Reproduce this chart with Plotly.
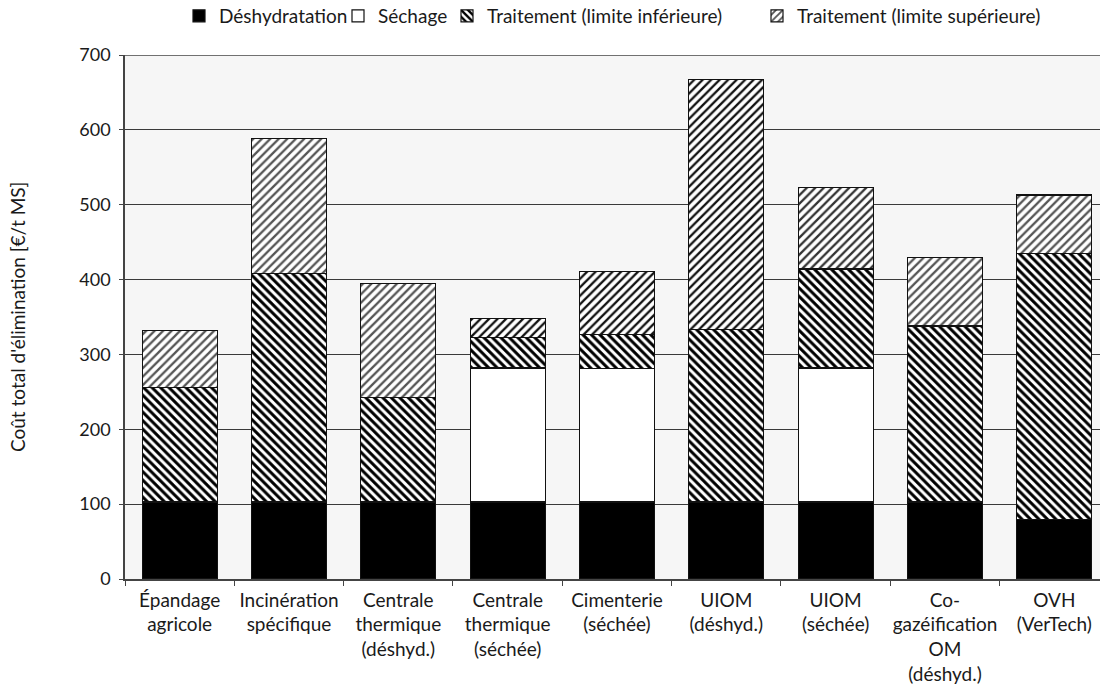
import plotly.graph_objects as go

categories = ["Épandage<br>agricole", "Incinération<br>spécifique", "Centrale<br>thermique<br>(déshyd.)",
              "Centrale<br>thermique<br>(séchée)", "Cimenterie<br>(séchée)", "UIOM<br>(déshyd.)",
              "UIOM<br>(séchée)", "Co-<br>gazéification<br>OM<br>(déshyd.)", "OVH<br>(VerTech)"]
deshydratation = [103, 103, 103, 103, 103, 103, 103, 103, 79]
sechage = [0, 0, 0, 179, 178, 0, 179, 0, 0]
limite_inf = [153, 305, 139, 41, 46, 230, 132, 235, 356]
limite_sup = [76, 180, 153, 25, 84, 334, 109, 92, 78]
sup_shade = ["#555555", "#555555", "#555555", "#111111", "#111111", "#111111", "#333333", "#555555", "#555555"]

FONT = "Lato"
TXT = "#1a1a1a"
fig = go.Figure()
line = dict(color="#111111", width=1.2)
fig.add_trace(go.Bar(x=categories, y=deshydratation, name="Déshydratation",
                     marker=dict(color="#000000", line=line), legend="legend"))
fig.add_trace(go.Bar(x=categories, y=sechage, name="Séchage",
                     marker=dict(color="#ffffff", line=line), legend="legend2"))
fig.add_trace(go.Bar(x=categories, y=limite_inf, name="Traitement (limite inférieure)",
                     marker=dict(color="#ffffff", line=line,
                                 pattern=dict(shape="\\", fgcolor="#000000", bgcolor="#ffffff",
                                              size=6, solidity=0.5, fillmode="replace")),
                     legend="legend3"))
fig.add_trace(go.Bar(x=categories, y=limite_sup, name="Traitement (limite supérieure)",
                     marker=dict(color="#ffffff", line=line,
                                 pattern=dict(shape="/", fgcolor=sup_shade, bgcolor="#ffffff",
                                              size=6, solidity=0.38, fillmode="replace")),
                     legend="legend4"))

W, H = 1100, 685
L, T = 125, 55
B = H - 579
PW = W - L

def leg(text_x):
    return dict(orientation="h", xref="container", yref="container",
                x=(text_x - 40) / W, y=1 - 16 / H,
                xanchor="left", yanchor="middle", bgcolor="rgba(0,0,0,0)",
                font=dict(family=FONT, size=19, color=TXT), borderwidth=0)

fig.update_layout(
    width=W, height=H, showlegend=True,
    barmode="stack", bargap=0.314,
    paper_bgcolor="#ffffff", plot_bgcolor="#f6f6f6",
    margin=dict(l=L, r=0, t=T, b=B, pad=0),
    font=dict(family=FONT, size=18, color=TXT),
    legend=leg(219), legend2=leg(378), legend3=leg(487), legend4=leg(797),
    xaxis=dict(range=[-0.5, 8.418], tickson="boundaries", ticks="outside", ticklen=5,
               tickcolor="#444444", showline=True, linecolor="#444444", linewidth=1.5,
               showgrid=False, tickangle=0, automargin=False,
               tickfont=dict(family=FONT, size=19, color=TXT), ticklabelstandoff=3),
    yaxis=dict(range=[0, 700], dtick=100, ticks="outside", ticklen=4, tickcolor="#444444",
               showline=True, linecolor="#444444", linewidth=1.5, automargin=False,
               showgrid=True, gridcolor="#3a3a3a", gridwidth=1.3, zeroline=False,
               tickfont=dict(family=FONT, size=18, color=TXT), ticklabelstandoff=5),
    shapes=[dict(type="line", xref="paper", yref="y", x0=0, x1=1, y0=700, y1=700,
                 line=dict(color="#444444", width=1.5), layer="above")],
    annotations=[dict(text="Coût total d'élimination [€/t MS]", textangle=-90,
                      xref="paper", yref="paper", x=(17 - L) / PW, y=0.5,
                      xanchor="center", yanchor="middle", showarrow=False,
                      font=dict(family=FONT, size=19, color=TXT))],
)
fig.write_html("out.html", config={"displayModeBar": False},
               post_script="document.body.style.margin='0';document.body.style.overflow='hidden';")
